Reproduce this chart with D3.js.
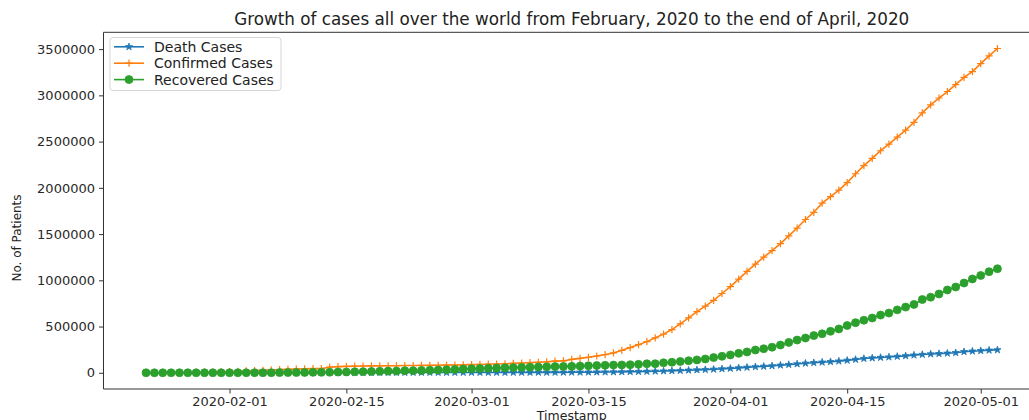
<!DOCTYPE html>
<html>
<head>
<meta charset="utf-8">
<script src="https://cdn.jsdelivr.net/npm/d3@7"></script>
<style>
  html, body { margin: 0; padding: 0; background: #fff; }
  svg { display: block; font-family: "DejaVu Sans", sans-serif; }
</style>
</head>
<body>
<svg id="chart" width="1029" height="420"></svg>
<script>
// Daily global totals, 2020-01-22 .. 2020-05-03
const startDate = "2020-01-22";
const endDate = "2020-05-03";

const deathCases = [
  17, 18, 26, 42, 56, 82, 131, 133, 171, 213,
  259, 362, 426, 492, 564, 634, 719, 806, 906, 1013,
  1113, 1118, 1371, 1523, 1666, 1770, 1868, 2007, 2122, 2247,
  2251, 2458, 2469, 2629, 2708, 2770, 2814, 2872, 2941,
  2996, 3085, 3160, 3254, 3348, 3460, 3558, 3803, 3996, 4262,
  4615, 4720, 5404, 5819, 6440, 7126, 7905, 8733, 9867, 11299,
  12973, 14623, 16497, 18615, 21181, 23970, 27198, 30652, 33925, 37582,
  42107,
  46809, 52983, 58787, 64606, 69374, 74565, 81865, 88338, 95455, 102525,
  108503, 114091, 119482, 125984, 134176, 143800, 153821, 159509, 165044, 169985,
  176583, 183066, 190858, 197159, 202846, 206544, 211167, 217153, 227638, 233388,
  238650, 243808, 247470
];

const confirmedCases = [
  555, 654, 941, 1434, 2118, 2927, 5578, 6166, 8234, 9927,
  12038, 16787, 19881, 23892, 27635, 30794, 34391, 37120, 40150, 42762,
  44802, 45221, 60368, 66885, 69030, 71224, 73258, 75136, 75639, 76197,
  76819, 78572, 78958, 79561, 80406, 81388, 82746, 84112, 86011,
  88369, 90306, 92840, 95120, 97886, 101801, 105847, 109821, 113590, 118620,
  125875, 128352, 145205, 156101, 167454, 181574, 197102, 214821, 242570, 272208,
  304507, 336953, 378235, 418045, 467653, 529591, 593291, 660693, 720140, 782389,
  857487,
  932605, 1013466, 1095917, 1176060, 1249754, 1321481, 1396476, 1479804, 1565278, 1657526,
  1735650, 1834721, 1904838, 1976191, 2056054, 2152437, 2240190, 2317759, 2401379, 2472259,
  2549123, 2624074, 2708885, 2811193, 2896746, 2971475, 3041764, 3116398, 3193886, 3256846,
  3343777, 3427343, 3506729
];

const recoveredCases = [
  28, 30, 36, 39, 52, 61, 107, 126, 143, 222,
  284, 472, 623, 852, 1124, 1487, 2011, 2616, 3244, 3946,
  4683, 5150, 6295, 8058, 9395, 10865, 12583, 14352, 16121, 18177,
  18890, 22886, 23394, 25227, 27905, 30384, 33277, 36711, 39782,
  42716, 45602, 48228, 51170, 53796, 55865, 58358, 60694, 62494, 64404,
  67003, 68324, 70251, 72624, 76034, 78088, 80840, 83207, 84854, 87256,
  91499, 97704, 98351, 107890, 113604, 121966, 130659, 139415, 149082, 164566,
  178034,
  193177, 210263, 225796, 246152, 260012, 276515, 300054, 328661, 353975, 376096,
  402110, 421722, 448655, 474261, 511019, 542107, 568343, 592319, 623903, 645738,
  680400, 710263, 739486, 792193, 817426, 852382, 895950, 927288, 970635, 1014753,
  1052415, 1093112, 1125236
];

const xTickLabels = ["2020-02-01", "2020-02-15", "2020-03-01", "2020-03-15", "2020-04-01", "2020-04-15", "2020-05-01"];
const yTickValues = [0, 500000, 1000000, 1500000, 2000000, 2500000, 3000000, 3500000];

const titleText = "Growth of cases all over the world from February, 2020 to the end of April, 2020";
const xLabel = "Timestamp";
const yLabel = "No. of Patients";

// ---------------------------------------------------------------------------
const parse = d3.utcParse("%Y-%m-%d");
const days = d3.utcDay.range(parse(startDate), d3.utcDay.offset(parse(endDate), 1));

const series = [
  { name: "Death Cases", values: deathCases, color: "#1f77b4", marker: "star" },
  { name: "Confirmed Cases", values: confirmedCases, color: "#ff7f0e", marker: "plus" },
  { name: "Recovered Cases", values: recoveredCases, color: "#2ca02c", marker: "circle" }
];

const svg = d3.select("#chart");

// axes box (right edge runs past the visible canvas)
const box = { left: 103.5, right: 1040, top: 32.3, bottom: 389 };

// 5% padding on both axes
const tMin = days[0].getTime(), tMax = days[days.length - 1].getTime();
const tPad = (tMax - tMin) * 0.05;
const x = d3.scaleUtc()
  .domain([new Date(tMin - tPad), new Date(tMax + tPad)])
  .range([box.left, box.right]);

const allVals = series.flatMap(s => s.values);
const vMin = d3.min(allVals), vMax = d3.max(allVals);
const vPad = (vMax - vMin) * 0.05;
const y = d3.scaleLinear()
  .domain([vMin - vPad, vMax + vPad])
  .range([box.bottom, box.top]);

// series lines and markers
const line = d3.line()
  .x((d, i) => x(days[i]))
  .y(d => y(d));

const starPath = d3.symbol().type(d3.symbolStar).size(16)();
const circlePath = d3.symbol().type(d3.symbolCircle).size(50)();
const plusPath = "M-3.6,0H3.6M0,-3.6V3.6";

function drawMarker(g, s, px, py) {
  if (s.marker === "star") {
    g.append("path").attr("d", starPath).attr("transform", `translate(${px},${py})`)
      .attr("fill", s.color).attr("stroke", s.color).attr("stroke-width", 0.8);
  } else if (s.marker === "circle") {
    g.append("path").attr("d", circlePath).attr("transform", `translate(${px},${py})`)
      .attr("fill", s.color).attr("stroke", s.color).attr("stroke-width", 0.8);
  } else {
    g.append("path").attr("d", plusPath).attr("transform", `translate(${px},${py})`)
      .attr("fill", "none").attr("stroke", s.color).attr("stroke-width", 1.2);
  }
}

const plot = svg.append("g");
series.forEach(s => {
  const g = plot.append("g");
  g.append("path")
    .datum(s.values)
    .attr("d", line)
    .attr("fill", "none")
    .attr("stroke", s.color)
    .attr("stroke-width", 1.6);
  s.values.forEach((v, i) => drawMarker(g, s, x(days[i]), y(v)));
});

// spines
const spineColor = "#333";
svg.append("line").attr("x1", box.left).attr("x2", box.right).attr("y1", box.top).attr("y2", box.top)
  .attr("stroke", spineColor).attr("stroke-width", 1);
svg.append("line").attr("x1", box.left).attr("x2", box.right).attr("y1", box.bottom).attr("y2", box.bottom)
  .attr("stroke", spineColor).attr("stroke-width", 1);
svg.append("line").attr("x1", box.left).attr("x2", box.left).attr("y1", box.top).attr("y2", box.bottom)
  .attr("stroke", spineColor).attr("stroke-width", 1);

// x axis
const xAxis = d3.axisBottom(x)
  .tickValues(xTickLabels.map(parse))
  .tickFormat(d3.utcFormat("%Y-%m-%d"))
  .tickSize(4.5)
  .tickPadding(3.5);
const gx = svg.append("g").attr("transform", `translate(0,${box.bottom})`).call(xAxis);
gx.select(".domain").remove();
gx.selectAll(".tick line").attr("stroke", spineColor);
gx.selectAll(".tick text").attr("fill", "#2a2a2a").attr("font-size", 13)
  .attr("font-family", "DejaVu Sans");

// y axis
const yAxis = d3.axisLeft(y)
  .tickValues(yTickValues)
  .tickFormat(d3.format("d"))
  .tickSize(4.5)
  .tickPadding(4);
const gy = svg.append("g").attr("transform", `translate(${box.left},0)`).call(yAxis);
gy.select(".domain").remove();
gy.selectAll(".tick line").attr("stroke", spineColor);
gy.selectAll(".tick text").attr("fill", "#2a2a2a").attr("font-size", 13)
  .attr("font-family", "DejaVu Sans");

// title and axis labels
svg.append("text")
  .attr("x", (box.left + box.right) / 2)
  .attr("y", 24.5)
  .attr("text-anchor", "middle")
  .attr("font-size", 16.8)
  .attr("fill", "#222")
  .text(titleText);

// x-axis label sits at the very bottom edge
svg.append("text")
  .attr("x", (box.left + box.right) / 2)
  .attr("y", 419.5)
  .attr("text-anchor", "middle")
  .attr("font-size", 12.5)
  .attr("fill", "#222")
  .text(xLabel);

svg.append("text")
  .attr("transform", `translate(21,238) rotate(-90)`)
  .attr("text-anchor", "middle")
  .attr("font-size", 12)
  .attr("fill", "#222")
  .text(yLabel);

// legend
const lg = svg.append("g").attr("transform", "translate(110,37.5)");
lg.append("rect")
  .attr("width", 171).attr("height", 53)
  .attr("rx", 3).attr("ry", 3)
  .attr("fill", "#fff").attr("fill-opacity", 0.8)
  .attr("stroke", "#d6d6d6").attr("stroke-width", 1);
series.forEach((s, i) => {
  const cy = 9.3 + i * 16.4;
  lg.append("line").attr("x1", 4).attr("x2", 34).attr("y1", cy).attr("y2", cy)
    .attr("stroke", s.color).attr("stroke-width", 1.6);
  drawMarker(lg, s, 19, cy);
  lg.append("text")
    .attr("x", 44).attr("y", cy)
    .attr("dy", "0.36em")
    .attr("font-size", 14)
    .attr("fill", "#222")
    .text(s.name);
});
</script>
</body>
</html>
